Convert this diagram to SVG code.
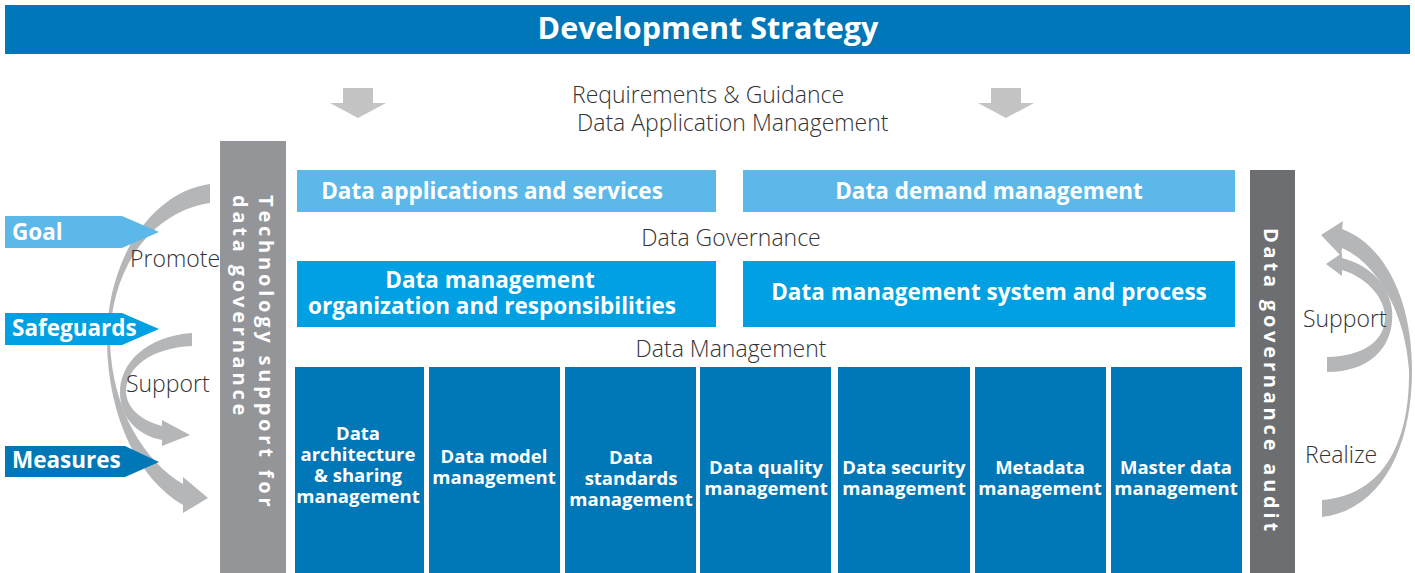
<svg xmlns="http://www.w3.org/2000/svg" width="1415" height="573" viewBox="0 0 1415 573">
<style>
.bold{font-family:"Open Sans","Liberation Sans",sans-serif;font-weight:700;fill:#fff}
.light{font-family:"Open Sans","Liberation Sans",sans-serif;font-weight:300;fill:#333;font-size:23px}
.b22{font-size:22.5px}
.b19{font-size:18.5px;text-anchor:middle}
.vert{font-size:20px;letter-spacing:3.8px}
.gray{fill:#b5b6b8}
.dn{fill:#c4c4c4}
.c1{fill:#5cb8e8}
.c2{fill:#00a0e2}
.c3{fill:#0077b6}
</style>
<rect width="1415" height="573" fill="#fff"/>
<g id="header">
<rect x="5" y="5" width="1405" height="49" fill="#0077b8"/>
<text class="bold" x="708" y="39" font-size="30.5" text-anchor="middle">Development Strategy</text>
</g>
<g id="connectors">
<path class="dn" d="M343 88 H373 V103 H386 L358 118 L330 103 H343 Z"/>
<path class="dn" d="M991 88 H1021 V103 H1034 L1006 118 L978 103 H991 Z"/>
<path class="gray" d="M210 184 C150 192 106 262 107 342 C108 420 140 480 183 505 L183 513 L208 498 L183 477 L183 484 C145 462 112 410 110 342 C110 270 150 212 210 203 Z"/>
<path class="gray" d="M192 333 C148 336 119 362 120 394 C121 420 140 436 162 440 L162 446 L190 435 L162 420 L162 426 C140 420 127 408 126 392 C126 368 150 348 192 346 Z"/>
<path class="gray" d="M1322 517 C1380 510 1412 450 1412 370 C1412 300 1385 245 1342 229 L1343 221 L1321 235 L1341 256 L1342 248 C1375 262 1405 310 1409 370 C1410 440 1385 495 1322 500 Z"/>
<path class="gray" d="M1327 372 C1372 372 1395 345 1392 310 C1389 285 1370 265 1342 258 L1342 253 L1326 264 L1342 276 L1342 270 C1365 277 1383 295 1385 315 C1386 340 1365 356 1327 357 Z"/>
</g>
<g id="labels">
<text class="light" x="572" y="103">Requirements &amp; Guidance</text>
<text class="light" x="577" y="131">Data Application Management</text>
<text class="light" x="731" y="246" text-anchor="middle">Data Governance</text>
<text class="light" x="731" y="357" text-anchor="middle">Data Management</text>
<text class="light" x="130" y="267">Promote</text>
<text class="light" x="126" y="392">Support</text>
<text class="light" x="1303" y="327">Support</text>
<text class="light" x="1305" y="463">Realize</text>
</g>
<g id="goal">
<path class="c1" d="M5 216 H122 L159 232 L122 248 H5 Z"/>
<text class="bold b22" x="12" y="240">Goal</text>
</g>
<g id="safeguards">
<path class="c2" d="M5 313 H122 L159 329 L122 345 H5 Z"/>
<text class="bold b22" x="12" y="336">Safeguards</text>
</g>
<g id="measures">
<path class="c3" d="M5 446 H125 L159 462 L125 477 H5 Z"/>
<text class="bold b22" x="12" y="468">Measures</text>
</g>
<g id="tech-support">
<rect x="220" y="141" width="66" height="432" fill="#939598"/>
<text class="bold vert" transform="translate(259 195) rotate(90)">Technology support for</text>
<text class="bold vert" transform="translate(233 195) rotate(90)">data governance</text>
</g>
<g id="audit">
<rect x="1250" y="170" width="45" height="403" fill="#6d6e71"/>
<text class="bold vert" letter-spacing="4" transform="translate(1264 228) rotate(90)">Data governance audit</text>
</g>
<g id="data-apps">
<rect class="c1" x="297" y="170" width="419" height="42"/>
<text class="bold b22" x="492" y="199" text-anchor="middle">Data applications and services</text>
</g>
<g id="data-demand">
<rect class="c1" x="743" y="170" width="492" height="42"/>
<text class="bold b22" x="989" y="199" text-anchor="middle">Data demand management</text>
</g>
<g id="org-resp">
<rect class="c2" x="297" y="261" width="419" height="66"/>
<text class="bold b22" x="490" y="288" text-anchor="middle">Data management</text>
<text class="bold b22" x="492" y="314" text-anchor="middle">organization and responsibilities</text>
</g>
<g id="system-process">
<rect class="c2" x="743" y="261" width="492" height="66"/>
<text class="bold b22" x="989" y="300" text-anchor="middle">Data management system and process</text>
</g>
<g id="architecture">
<rect class="c3" x="295" y="367" width="129" height="206"/>
<text class="bold b19" x="358" y="440">Data</text>
<text class="bold b19" x="358" y="461">architecture</text>
<text class="bold b19" x="358" y="482">&amp; sharing</text>
<text class="bold b19" x="358" y="503">management</text>
</g>
<g id="model">
<rect class="c3" x="429" y="367" width="131" height="206"/>
<text class="bold b19" x="494" y="463">Data model</text>
<text class="bold b19" x="494" y="484">management</text>
</g>
<g id="standards">
<rect class="c3" x="565" y="367" width="131" height="206"/>
<text class="bold b19" x="631" y="464">Data</text>
<text class="bold b19" x="631" y="485">standards</text>
<text class="bold b19" x="631" y="506">management</text>
</g>
<g id="quality">
<rect class="c3" x="700" y="367" width="131" height="206"/>
<text class="bold b19" x="766" y="474">Data quality</text>
<text class="bold b19" x="766" y="495">management</text>
</g>
<g id="security">
<rect class="c3" x="838" y="367" width="132" height="206"/>
<text class="bold b19" x="904" y="474">Data security</text>
<text class="bold b19" x="904" y="495">management</text>
</g>
<g id="metadata">
<rect class="c3" x="975" y="367" width="131" height="206"/>
<text class="bold b19" x="1040" y="474">Metadata</text>
<text class="bold b19" x="1040" y="495">management</text>
</g>
<g id="master">
<rect class="c3" x="1111" y="367" width="131" height="206"/>
<text class="bold b19" x="1176" y="474">Master data</text>
<text class="bold b19" x="1176" y="495">management</text>
</g>
</svg>
